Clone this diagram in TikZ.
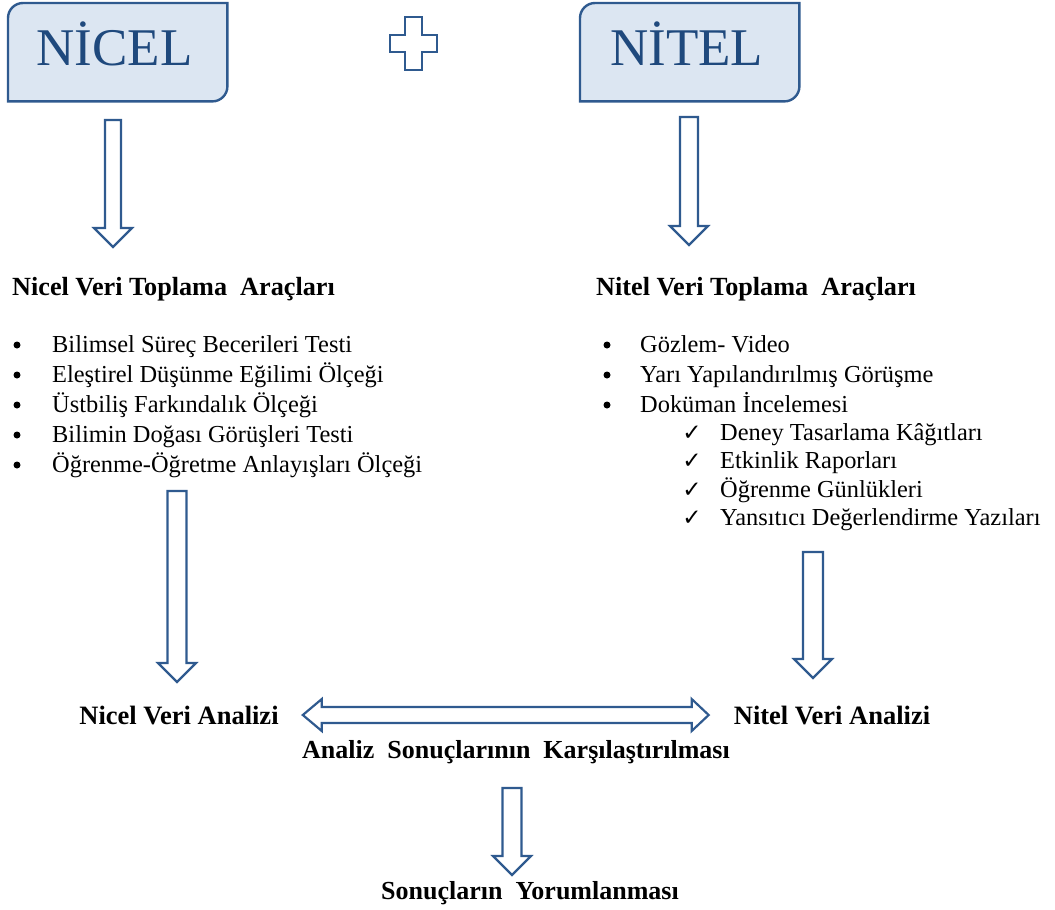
\documentclass[tikz,border=0pt]{standalone}
\usepackage{fontspec}
\setmainfont{Liberation Serif}[Ligatures=TeX]
\newfontfamily\tnr{Liberation Serif}
\newfontfamily\dejavu{DejaVu Sans}
\usetikzlibrary{calc}
\definecolor{kutumavi}{HTML}{DCE6F2}
\definecolor{cizgimavi}{HTML}{2F5A8F}
\definecolor{yazimavi}{HTML}{1F497D}
\begin{document}
\begin{tikzpicture}[x=1pt,y=-1pt,
	kutu/.style={anchor=north west,inner sep=0pt,minimum width=219pt,minimum height=98pt},
	kutucizgi/.style={draw=cizgimavi,fill=kutumavi,line width=2.4pt},
	kutuyazi/.style={anchor=base,inner sep=0pt,text=yazimavi,font=\tnr\fontsize{53}{53}\selectfont},
	baslik/.style={anchor=base west,inner sep=0pt,font=\tnr\fontsize{26.2}{26.2}\selectfont\bfseries},
	madde/.style={anchor=base west,inner sep=0pt,font=\tnr\fontsize{24.4}{24.4}\selectfont},
	isaret/.style={circle,fill=black,inner sep=0pt,minimum size=7pt},
	tik/.style={anchor=base,inner sep=0pt,font=\dejavu\fontsize{23}{23}\selectfont},
	analiz/.style={anchor=base,inner sep=0pt,font=\tnr\fontsize{26.5}{26.5}\selectfont\bfseries},
	sonuc/.style={anchor=base,inner sep=0pt,font=\tnr\fontsize{26}{26}\selectfont\bfseries},
	okasagi/.style={draw=cizgimavi,fill=white,line width=2.2pt,to path={
		let \p1=(\tikztostart), \p2=(\tikztotarget) in
		(\x1-#1,\y1) -- (\x1+#1,\y1) -- (\x1+#1,\y2+19pt) -- (\x1+19pt,\y2+19pt) -- (\x2,\y2)
		-- (\x1-19pt,\y2+19pt) -- (\x1-#1,\y2+19pt) -- cycle}},
	okasagi/.default=9pt,
	ciftok/.style={draw=cizgimavi,fill=white,line width=2.2pt,to path={
		let \p1=(\tikztostart), \p2=(\tikztotarget) in
		(\x1,\y1) -- (\x1+19pt,\y1+16pt) -- (\x1+19pt,\y1+8pt) -- (\x2-17pt,\y1+8pt) -- (\x2-17pt,\y1+16pt)
		-- (\x2,\y1) -- (\x2-17pt,\y1-16pt) -- (\x2-17pt,\y1-8pt) -- (\x1+19pt,\y1-8pt) -- (\x1+19pt,\y1-16pt) -- cycle}}]
	\useasboundingbox (0,0) rectangle (1055,910);
	% Kutular
	\node[kutu] (nicel) at (8,3) {};
	\draw[kutucizgi] (nicel.south west) -- ([yshift=-15pt]nicel.north west) arc[start angle=180,end angle=90,radius=15pt]
		-- (nicel.north east) -- ([yshift=15pt]nicel.south east) arc[start angle=0,end angle=-90,radius=15pt] -- cycle;
	\node[kutuyazi] (nicelyazi) at ([xshift=-3pt,yshift=-13pt]nicel.center) {NİCEL};
	\node[kutu] (nitel) at (580,3) {};
	\draw[kutucizgi] (nitel.south west) -- ([yshift=-15pt]nitel.north west) arc[start angle=180,end angle=90,radius=15pt]
		-- (nitel.north east) -- ([yshift=15pt]nitel.south east) arc[start angle=0,end angle=-90,radius=15pt] -- cycle;
	\node[kutuyazi] (nitelyazi) at ([xshift=-3pt,yshift=-13pt]nitel.center) {NİTEL};
	% Arti
	\draw[draw=cizgimavi,fill=white,line width=2.2pt] (405,17) -- (422,17) -- (422,35) -- (437,35) -- (437,52) -- (422,52)
		-- (422,70) -- (405,70) -- (405,52) -- (390,52) -- (390,35) -- (405,35) -- cycle;
	% Nicel veri toplama
	\node[baslik] (niceltop) at (12,295) {Nicel Veri Toplama \ Araçları};
	\node[isaret] (b1) at (17,345) {};
	\node[madde] (m1) at (52,352) {Bilimsel Süreç Becerileri Testi};
	\node[isaret] (b2) at (17,375) {};
	\node[madde] (m2) at (52,382) {Eleştirel Düşünme Eğilimi Ölçeği};
	\node[isaret] (b3) at (17,405) {};
	\node[madde] (m3) at (52,412) {Üstbiliş Farkındalık Ölçeği};
	\node[isaret] (b4) at (17,435) {};
	\node[madde] (m4) at (52,442) {Bilimin Doğası Görüşleri Testi};
	\node[isaret] (b5) at (17,465) {};
	\node[madde] (m5) at (52,472) {Öğrenme-Öğretme Anlayışları Ölçeği};
	% Nitel veri toplama
	\node[baslik] (niteltop) at (596,295) {Nitel Veri Toplama \ Araçları};
	\node[isaret] (c1) at (607,345) {};
	\node[madde] (n1) at (640,352) {Gözlem- Video};
	\node[isaret] (c2) at (607,375) {};
	\node[madde] (n2) at (640,382) {Yarı Yapılandırılmış Görüşme};
	\node[isaret] (c3) at (607,405) {};
	\node[madde] (n3) at (640,412) {Doküman İncelemesi};
	\node[tik] (t1) at (692,440) {✓};
	\node[madde] (d1) at (720,440) {Deney Tasarlama Kâğıtları};
	\node[tik] (t2) at (692,468) {✓};
	\node[madde] (d2) at (720,468) {Etkinlik Raporları};
	\node[tik] (t3) at (692,497) {✓};
	\node[madde] (d3) at (720,497) {Öğrenme Günlükleri};
	\node[tik] (t4) at (692,525) {✓};
	\node[madde] (d4) at (720,525) {Yansıtıcı Değerlendirme Yazıları};
	% Analiz
	\node[analiz] (nicelanaliz) at (179,724) {Nicel Veri Analizi};
	\node[analiz] (nitelanaliz) at (832,724) {Nitel Veri Analizi};
	\node[sonuc] (karsilastirma) at (516,758) {Analiz \ Sonuçlarının \ Karşılaştırılması};
	\node[sonuc] (yorum) at (530,899) {Sonuçların \ Yorumlanması};
	% Oklar
	\coordinate (o1b) at (113,120); \coordinate (o1s) at (113,247);
	\coordinate (o2b) at (689,117); \coordinate (o2s) at (689,245);
	\coordinate (o3b) at (177,491); \coordinate (o3s) at (177,682);
	\coordinate (o4b) at (813,552); \coordinate (o4s) at (813,678);
	\coordinate (o5b) at (512,788); \coordinate (o5s) at (512,875);
	\draw[okasagi=8pt] (o1b) to (o1s);
	\draw[okasagi] (o2b) to (o2s);
	\draw[okasagi=9.5pt] (o3b) to (o3s);
	\draw[okasagi=10pt] (o4b) to (o4s);
	\draw[okasagi=9.5pt] (o5b) to (o5s);
	\coordinate (o6a) at ([xshift=24pt]nicelanaliz.east);
	\coordinate (o6b) at ([xshift=-25pt]nitelanaliz.west);
	\draw[ciftok] (o6a) to (o6b);
\end{tikzpicture}
\end{document}
